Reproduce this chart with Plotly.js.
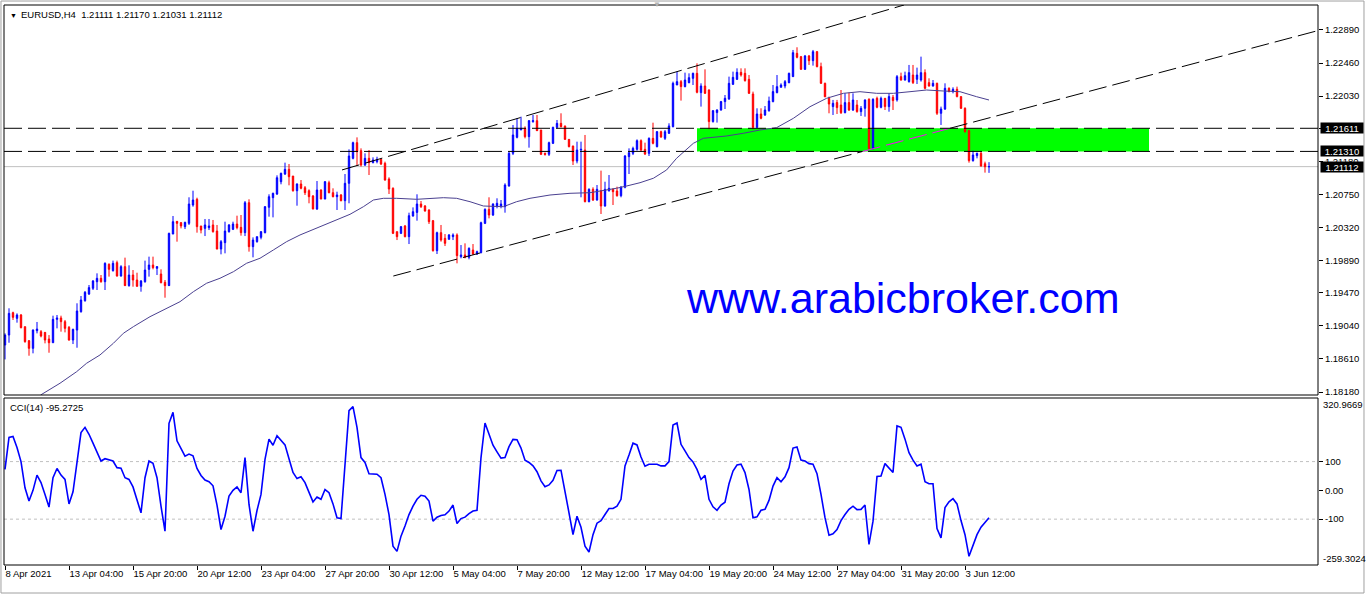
<!DOCTYPE html>
<html>
<head>
<meta charset="utf-8">
<script src="https://cdn.plot.ly/plotly-3.0.1.min.js"></script>
<style>html,body{margin:0;padding:0;background:#fff;}#chart{width:1368px;height:596px;}</style>
</head>
<body>
<div id="chart"></div>
<script>
// ---------- DATA ----------
const symbolTitle = 'EURUSD,H4\u00a0\u00a01.21111 1.21170 1.21031 1.21112';
const cciTitle = 'CCI(14) -95.2725';
const watermark = 'www.arabicbroker.com';

const openP = [1.18791,1.18921,1.19212,1.19138,1.19182,1.19030,1.18848,1.18748,1.18978,1.18965,
1.18956,1.18869,1.18821,1.19125,1.19143,1.19095,1.19021,1.18856,1.18986,1.19225,
1.19368,1.19455,1.19529,1.19615,1.19659,1.19615,1.19841,1.19759,1.19863,1.19689,
1.19811,1.19564,1.19702,1.19637,1.19555,1.19615,1.19776,1.19832,1.19789,1.19715,
1.19607,1.19564,1.20235,1.20400,1.20383,1.20331,1.20374,1.20613,1.20687,1.20340,
1.20309,1.20318,1.20353,1.20274,1.20040,1.20123,1.20266,1.20296,1.20365,1.20322,
1.20253,1.20643,1.20071,1.20136,1.20192,1.20253,1.20583,1.20708,1.20756,1.20916,
1.21016,1.21077,1.20990,1.20799,1.20886,1.20838,1.20799,1.20730,1.20561,1.20808,
1.20691,1.20903,1.20773,1.20721,1.20743,1.20669,1.20895,1.21220,1.21424,1.21320,
1.21133,1.21220,1.21164,1.21177,1.21207,1.21155,1.20951,1.20830,1.20266,1.20244,
1.20340,1.20201,1.20470,1.20517,1.20626,1.20600,1.20548,1.20409,1.20019,1.20253,
1.20179,1.20166,1.20201,1.20223,1.19941,1.19963,1.19932,1.20027,1.19975,1.19993,
1.20374,1.20556,1.20483,1.20600,1.20600,1.20591,1.20860,1.21285,1.21493,1.21589,
1.21610,1.21502,1.21697,1.21710,1.21589,1.21285,1.21272,1.21415,1.21623,1.21675,
1.21641,1.21467,1.21380,1.21185,1.21328,1.21328,1.20656,1.20817,1.20678,1.20799,
1.20600,1.20799,1.20817,1.20795,1.20734,1.20843,1.21242,1.21285,1.21337,1.21450,
1.21337,1.21285,1.21480,1.21372,1.21567,1.21480,1.21546,1.21632,1.22174,1.22218,
1.22153,1.22205,1.22261,1.22326,1.22075,1.22161,1.22109,1.21698,1.21815,1.21849,
1.21958,1.21993,1.22183,1.22248,1.22339,1.22326,1.22248,1.22057,1.21624,1.21797,
1.21784,1.21840,1.21958,1.22075,1.22144,1.22161,1.22205,1.22283,1.22586,1.22543,
1.22378,1.22552,1.22491,1.22608,1.22413,1.22196,1.22001,1.21893,1.21945,1.21914,
1.21814,1.21945,1.21849,1.21914,1.21828,1.21871,1.21988,1.21350,1.22001,1.21884,
1.22001,1.21893,1.22014,1.21980,1.22283,1.22239,1.22218,1.22304,1.22248,1.22239,
1.22335,1.22205,1.22161,1.22196,1.21806,1.21862,1.22131,1.22088,1.22118,1.22023,
1.21871,1.21580,1.21190,1.21255,1.21285,1.21150,1.21111];

const highP = [1.18943,1.19269,1.19225,1.19203,1.19195,1.19030,1.18856,1.18995,1.19091,1.18986,
1.18956,1.18921,1.19173,1.19182,1.19173,1.19117,1.19039,1.19004,1.19334,1.19429,
1.19494,1.19572,1.19637,1.19724,1.19702,1.19867,1.19854,1.19889,1.19889,1.19830,
1.19928,1.19828,1.19767,1.19732,1.19637,1.19889,1.19941,1.19941,1.19819,1.19776,
1.19637,1.20253,1.20470,1.20405,1.20392,1.20396,1.20713,1.20799,1.20708,1.20340,
1.20431,1.20431,1.20418,1.20353,1.20157,1.20396,1.20365,1.20396,1.20474,1.20483,
1.20665,1.20687,1.20192,1.20201,1.20274,1.20600,1.20752,1.20773,1.20999,1.21034,
1.21164,1.21146,1.20990,1.20895,1.20938,1.20860,1.20817,1.20743,1.20925,1.20817,
1.20925,1.20929,1.20830,1.20786,1.20756,1.21016,1.21337,1.21437,1.21493,1.21350,
1.21285,1.21328,1.21233,1.21241,1.21220,1.21177,1.20973,1.20843,1.20266,1.20340,
1.20353,1.20513,1.20582,1.20752,1.20665,1.20613,1.20557,1.20418,1.20266,1.20353,
1.20235,1.20235,1.20244,1.20244,1.20092,1.20114,1.20062,1.20105,1.20019,1.20396,
1.20570,1.20713,1.20635,1.20700,1.20678,1.20895,1.21307,1.21654,1.21740,1.21762,
1.21636,1.21719,1.21784,1.21784,1.21589,1.21294,1.21437,1.21632,1.21719,1.21806,
1.21645,1.21467,1.21385,1.21437,1.21437,1.21524,1.20830,1.20843,1.20873,1.21060,
1.20916,1.21003,1.20830,1.20851,1.20860,1.21263,1.21350,1.21372,1.21467,1.21467,
1.21424,1.21493,1.21684,1.21576,1.21580,1.21589,1.21676,1.22218,1.22348,1.22239,
1.22335,1.22326,1.22335,1.22456,1.22196,1.22378,1.22118,1.21849,1.21858,1.21967,
1.22044,1.22283,1.22348,1.22391,1.22391,1.22391,1.22304,1.22088,1.21871,1.21871,
1.21901,1.22023,1.22174,1.22304,1.22196,1.22239,1.22335,1.22630,1.22665,1.22552,
1.22565,1.22565,1.22630,1.22617,1.22465,1.22205,1.22023,1.21980,1.21980,1.22109,
1.22066,1.22075,1.22066,1.21979,1.21901,1.21988,1.22001,1.22001,1.22023,1.22023,
1.22001,1.22066,1.22044,1.22304,1.22335,1.22348,1.22435,1.22435,1.22400,1.22543,
1.22378,1.22261,1.22239,1.22205,1.21893,1.22196,1.22144,1.22144,1.22153,1.22023,
1.21884,1.21589,1.21320,1.21294,1.21307,1.21177,1.21170];

const lowP = [1.18604,1.18821,1.19117,1.19082,1.19008,1.18821,1.18652,1.18683,1.18943,1.18891,
1.18813,1.18691,1.18821,1.19008,1.18965,1.18956,1.18848,1.18804,1.18756,1.19212,
1.19355,1.19442,1.19507,1.19507,1.19602,1.19507,1.19681,1.19746,1.19681,1.19681,
1.19559,1.19550,1.19550,1.19550,1.19485,1.19602,1.19681,1.19776,1.19702,1.19594,
1.19407,1.19559,1.20235,1.20136,1.20309,1.20300,1.20353,1.20591,1.20253,1.20244,
1.20209,1.20287,1.20253,1.20036,1.19971,1.19984,1.20253,1.20287,1.20296,1.20214,
1.20209,1.20006,1.19932,1.20123,1.20166,1.20244,1.20461,1.20452,1.20743,1.20882,
1.21003,1.20869,1.20786,1.20604,1.20817,1.20743,1.20635,1.20556,1.20548,1.20687,
1.20687,1.20765,1.20713,1.20548,1.20661,1.20548,1.20635,1.21207,1.21120,1.21112,
1.21120,1.21003,1.21155,1.21155,1.21133,1.20929,1.20756,1.20235,1.20157,1.20235,
1.20192,1.20105,1.20461,1.20409,1.20574,1.20526,1.20366,1.20006,1.19975,1.20136,
1.20079,1.20166,1.20157,1.19854,1.19919,1.19919,1.19906,1.19962,1.19962,1.19984,
1.20365,1.20439,1.20470,1.20570,1.20570,1.20513,1.20852,1.21263,1.21480,1.21589,
1.21480,1.21359,1.21684,1.21576,1.21263,1.21255,1.21250,1.21406,1.21610,1.21623,
1.21459,1.21363,1.21133,1.21155,1.20713,1.20648,1.20648,1.20665,1.20669,1.20496,
1.20591,1.20786,1.20613,1.20721,1.20713,1.20830,1.21016,1.21263,1.21320,1.21307,
1.21263,1.21250,1.21402,1.21363,1.21488,1.21459,1.21537,1.21623,1.22174,1.21971,
1.22144,1.22196,1.22174,1.22066,1.21893,1.22057,1.21598,1.21685,1.21685,1.21840,
1.21862,1.21980,1.22174,1.22239,1.22283,1.22218,1.22057,1.21598,1.21611,1.21728,
1.21771,1.21827,1.21949,1.22066,1.22144,1.22131,1.22196,1.22283,1.22521,1.22370,
1.22370,1.22435,1.22426,1.22404,1.22187,1.22020,1.21806,1.21784,1.21797,1.21797,
1.21806,1.21836,1.21836,1.21814,1.21771,1.21762,1.21337,1.21337,1.21871,1.21871,
1.21849,1.21827,1.21849,1.21958,1.22231,1.22231,1.22205,1.22187,1.22187,1.22218,
1.22118,1.22153,1.22153,1.21784,1.21654,1.21849,1.22079,1.22066,1.22014,1.21862,
1.21554,1.21164,1.21177,1.21220,1.21112,1.21034,1.21031];

const closeP = [1.18921,1.19203,1.19151,1.19182,1.19017,1.18835,1.18748,1.18986,1.18999,1.18908,
1.18856,1.18821,1.19125,1.19143,1.19095,1.19008,1.18856,1.18995,1.19234,1.19377,
1.19477,1.19538,1.19624,1.19659,1.19615,1.19854,1.19776,1.19854,1.19689,1.19811,
1.19564,1.19702,1.19637,1.19555,1.19624,1.19767,1.19832,1.19798,1.19811,1.19602,
1.19564,1.20244,1.20396,1.20374,1.20340,1.20387,1.20626,1.20678,1.20331,1.20287,
1.20353,1.20340,1.20266,1.20040,1.20136,1.20274,1.20353,1.20365,1.20318,1.20253,
1.20643,1.20071,1.20157,1.20201,1.20266,1.20591,1.20721,1.20765,1.20968,1.21025,
1.21077,1.20981,1.20799,1.20886,1.20830,1.20773,1.20721,1.20561,1.20808,1.20691,
1.20916,1.20773,1.20721,1.20743,1.20669,1.20895,1.21250,1.21424,1.21307,1.21133,
1.21220,1.21164,1.21198,1.21207,1.21146,1.20938,1.20821,1.20244,1.20201,1.20331,
1.20201,1.20474,1.20526,1.20626,1.20591,1.20535,1.20396,1.20019,1.20253,1.20157,
1.20114,1.20223,1.20223,1.19954,1.19963,1.19932,1.20049,1.19975,1.20006,1.20383,
1.20556,1.20483,1.20626,1.20635,1.20626,1.20873,1.21285,1.21524,1.21610,1.21610,
1.21502,1.21710,1.21710,1.21580,1.21272,1.21272,1.21424,1.21623,1.21675,1.21632,
1.21467,1.21372,1.21185,1.21328,1.21337,1.20656,1.20817,1.20678,1.20817,1.20600,
1.20817,1.20830,1.20786,1.20734,1.20843,1.21250,1.21294,1.21350,1.21450,1.21328,
1.21276,1.21480,1.21415,1.21567,1.21497,1.21567,1.21641,1.22196,1.22218,1.22153,
1.22239,1.22270,1.22326,1.22079,1.22161,1.22066,1.21698,1.21840,1.21849,1.21958,
1.22001,1.22196,1.22274,1.22339,1.22304,1.22231,1.22066,1.21624,1.21797,1.21741,
1.21849,1.21966,1.22088,1.22153,1.22174,1.22218,1.22326,1.22595,1.22534,1.22378,
1.22552,1.22491,1.22608,1.22413,1.22196,1.22020,1.21927,1.21936,1.21880,1.21814,
1.21945,1.21849,1.21979,1.21828,1.21871,1.21979,1.21350,1.21988,1.21884,1.22001,
1.21893,1.22023,1.21971,1.22283,1.22239,1.22296,1.22335,1.22205,1.22304,1.22335,
1.22131,1.22161,1.22196,1.21806,1.21862,1.22131,1.22088,1.22118,1.22023,1.21871,
1.21567,1.21190,1.21264,1.21285,1.21120,1.21111,1.21112];

const cciValues = [73,184,187,149,100,9,-37,0,53,27,
-14,-58,44,76,53,38,-47,-5,97,201,
219,195,164,135,102,110,107,102,79,77,
44,38,12,-31,-78,44,102,94,44,-55,
-142,233,271,172,143,119,126,120,76,52,
36,30,16,-51,-136,-90,-20,0,12,-8,
114,-49,-142,-70,-14,108,178,157,190,174,
158,110,62,41,47,27,-8,-40,-23,-31,
3,-8,-47,-95,-98,91,277,291,219,114,
97,58,58,56,44,-14,-84,-194,-212,-159,
-124,-84,-55,-31,-17,-20,-37,-107,-93,-87,
-85,-72,-51,-115,-98,-93,-81,-72,-69,114,
234,195,157,134,112,114,152,177,176,147,
105,97,85,65,33,13,19,35,69,70,
0,-78,-154,-90,-128,-194,-214,-154,-114,-105,
-84,-63,-63,-55,-31,85,123,164,158,116,
84,91,91,91,85,85,100,227,234,160,
137,114,99,73,38,52,-31,-57,-69,-51,
-41,23,67,88,91,62,3,-95,-92,-69,
-66,-35,15,44,30,47,79,147,151,105,
102,93,91,58,-14,-95,-156,-151,-136,-105,
-84,-66,-55,-67,-66,-51,-188,-107,48,50,
93,76,62,224,219,178,131,105,85,91,
30,23,23,-133,-165,-60,-40,-29,-47,-105,
-154,-229,-188,-154,-128,-113,-95.2725];

// moving average read at sampled bar positions
const maBar = [8.9,13.75,17.9,20.4,23.75,27.1,29.6,32.1,36.25,40.4,43.75,47.1,50.4,53.75,57.1,60.4,63.75,67.1,70.4,73.75,77.9,82.1,86.25,89.6,92.1,94.6,97.9,102.9,109.6,112.9,116.25,119.6,122.1,124.6,127.9,131.25,136.25,141.25,146.25,149.6,152.9,155.4,158.75,162.1,165.4,167.9,172.1,174.6,180.4,184.6,188.75,192.9,197.1,201.25,205.4,209.6,213.75,217.9,222.1,226.25,230.4,234.6,238.75,242.9,246];
const maValue = [1.18141,1.18294,1.18444,1.18554,1.18662,1.18814,1.18944,1.19030,1.19160,1.19269,1.19355,1.19485,1.19595,1.19660,1.19745,1.19855,1.19920,1.20028,1.20136,1.20223,1.20310,1.20396,1.20492,1.20591,1.20678,1.20700,1.20700,1.20687,1.20708,1.20700,1.20656,1.20600,1.20591,1.20591,1.20656,1.20700,1.20743,1.20765,1.20773,1.20799,1.20831,1.20860,1.20903,1.20961,1.21069,1.21221,1.21416,1.21481,1.21511,1.21546,1.21589,1.21619,1.21741,1.21892,1.22001,1.22066,1.22087,1.22066,1.22066,1.22087,1.22109,1.22096,1.22087,1.22022,1.21979];

const timeTickBars = [0,16,32,48,64,80,96,112,128,144,160,176,192,208,224,240];
const timeTickLabels = ['8 Apr 2021','13 Apr 04:00','15 Apr 20:00','20 Apr 12:00','23 Apr 04:00','27 Apr 20:00','30 Apr 12:00','5 May 04:00','7 May 20:00','12 May 12:00','17 May 04:00','19 May 20:00','24 May 12:00','27 May 04:00','31 May 20:00','3 Jun 12:00'];
const priceTicks = [1.18180,1.18610,1.19040,1.19470,1.19890,1.20320,1.20750,1.21180,1.21610,1.22030,1.22460,1.22890];
const cciTicks = [100,0,-100];
const cciTickLabels = ['100','0.00','-100'];
const cciMax = 320.9669, cciMin = -259.3024;

const levelPrices = [1.21611, 1.21310];
const bidPrice = 1.21112;
const zoneBars = [173, 286];
const zonePrices = [1.21310, 1.21611];
const upperLine = {bar:[84.25, 224.75], price:[1.21069, 1.23215]};
const lowerLine = {bar:[97.08, 328.25], price:[1.19689, 1.22882]};

// ---------- CHART ----------
const FONT = 'Liberation Sans, Arial, sans-serif';
const bars = openP.map((_, i) => i);
const mainDom = [0.30357, 1];
const cciDom = [0, 0.29821];

const traces = [
  {type:'scatter', mode:'lines', x:maBar, y:maValue, xaxis:'x', yaxis:'y',
   line:{color:'#4A4090', width:1}, hoverinfo:'skip'},
  {type:'candlestick', x:bars, open:openP, high:highP, low:lowP, close:closeP,
   xaxis:'x', yaxis:'y', whiskerwidth:0,
   increasing:{line:{color:'#0000FF', width:1}, fillcolor:'#0000FF'},
   decreasing:{line:{color:'#FF0000', width:1}, fillcolor:'#FF0000'},
   hoverinfo:'skip'},
  {type:'scatter', mode:'lines', x:bars, y:cciValues, xaxis:'x', yaxis:'y2',
   line:{color:'#0000FF', width:1.6}, hoverinfo:'skip'}
];

// lower trend line split where it crosses the green zone (drawn magenta inside)
function barAt(line, p) {
  return line.bar[0] + (p - line.price[0]) / (line.price[1] - line.price[0]) * (line.bar[1] - line.bar[0]);
}
const bIn = barAt(lowerLine, zonePrices[0]);
const bOut = barAt(lowerLine, zonePrices[1]);
const DASH = '18px,6px';

const shapes = [
  {type:'rect', xref:'paper', yref:'paper', x0:-0.0023, x1:1.035, y0:-0.05, y1:1.0071,
   line:{color:'#A0A0A0', width:1}, fillcolor:'rgba(0,0,0,0)', layer:'below'},
  {type:'rect', xref:'x', yref:'y', x0:zoneBars[0], x1:zoneBars[1], y0:zonePrices[0], y1:zonePrices[1],
   fillcolor:'#00FF00', line:{width:0}, layer:'below'},
  {type:'line', xref:'paper', yref:'y', x0:0, x1:1, y0:bidPrice, y1:bidPrice,
   line:{color:'#C0C0C0', width:1}, layer:'below'},
  {type:'line', xref:'paper', yref:'y2', x0:0, x1:1, y0:100, y1:100, line:{color:'#C0C0C0', width:1, dash:'3px,3px'}, layer:'below'},
  {type:'line', xref:'paper', yref:'y2', x0:0, x1:1, y0:-100, y1:-100, line:{color:'#C0C0C0', width:1, dash:'3px,3px'}, layer:'below'},
  {type:'line', xref:'x', yref:'y', x0:upperLine.bar[0], x1:upperLine.bar[1], y0:upperLine.price[0], y1:upperLine.price[1],
   line:{color:'#000', width:1, dash:DASH}},
  {type:'line', xref:'x', yref:'y', x0:lowerLine.bar[0], x1:bIn, y0:lowerLine.price[0], y1:zonePrices[0],
   line:{color:'#000', width:1, dash:DASH}},
  {type:'line', xref:'x', yref:'y', x0:bIn, x1:bOut, y0:zonePrices[0], y1:zonePrices[1],
   line:{color:'#FF00FF', width:1, dash:DASH}},
  {type:'line', xref:'x', yref:'y', x0:bOut, x1:lowerLine.bar[1], y0:zonePrices[1], y1:lowerLine.price[1],
   line:{color:'#000', width:1, dash:DASH}},
  {type:'rect', xref:'paper', yref:'paper', x0:0, x1:1, y0:mainDom[0], y1:mainDom[1],
   line:{color:'#000', width:1}, fillcolor:'rgba(0,0,0,0)'},
  {type:'rect', xref:'paper', yref:'paper', x0:0, x1:1, y0:cciDom[0], y1:cciDom[1],
   line:{color:'#000', width:1}, fillcolor:'rgba(0,0,0,0)'}
];
levelPrices.forEach(p => shapes.push({type:'line', xref:'paper', yref:'y', x0:0, x1:1, y0:p, y1:p,
  line:{color:'#000', width:1, dash:DASH}}));

const txt = (s, c) => ({family:FONT, size:s, color:c || '#000'});
const annotations = [
  {xref:'paper', yref:'paper', x:0, y:1, xanchor:'left', yanchor:'top', xshift:4, yshift:-5,
   text:'▼', showarrow:false, font:txt(7)},
  {xref:'paper', yref:'paper', x:0, y:1, xanchor:'left', yanchor:'top', xshift:15, yshift:-2,
   text:symbolTitle, showarrow:false, font:txt(9.5)},
  {xref:'paper', yref:'paper', x:0, y:cciDom[1], xanchor:'left', yanchor:'top', xshift:4, yshift:-2,
   text:cciTitle, showarrow:false, font:txt(9.5)},
  {xref:'paper', yref:'paper', x:0.4970, y:1, xanchor:'center', yanchor:'middle', yshift:1,
   text:'▼', showarrow:false, font:txt(8, '#B4B4B4')},
  {xref:'paper', yref:'paper', x:0.6842, y:0.4759, xanchor:'center', yanchor:'middle',
   text:watermark, showarrow:false, font:txt(43, '#0000FF')},
  {xref:'paper', yref:'y2', x:1, y:cciMax, xanchor:'left', yanchor:'middle', xshift:3, yshift:-6,
   text:cciMax.toFixed(4), showarrow:false, font:txt(9.5)},
  {xref:'paper', yref:'y2', x:1, y:cciMin, xanchor:'left', yanchor:'middle', xshift:3, yshift:7,
   text:cciMin.toFixed(4), showarrow:false, font:txt(9.5)}
];
[levelPrices[0], levelPrices[1], bidPrice].forEach(p => annotations.push({
  xref:'paper', yref:'y', x:1, y:p, xanchor:'left', yanchor:'middle', xshift:2,
  text:p.toFixed(5), showarrow:false, font:txt(9.5, '#FFFFFF'),
  bgcolor:'#000000', borderpad:0, width:42, height:10
}));

const layout = {
  width:1368, height:596,
  margin:{l:4, r:50, t:5, b:31, pad:0},
  paper_bgcolor:'#FFFFFF', plot_bgcolor:'#FFFFFF',
  showlegend:false, hovermode:false, boxgap:0.5,
  font:{family:FONT, size:9.5, color:'#000'},
  xaxis:{range:[-0.25, 328.25], anchor:'y2', tickmode:'array', tickvals:timeTickBars, ticktext:timeTickLabels,
    ticks:'outside', ticklen:4, tickcolor:'#000', ticklabelposition:'outside right', tickangle:0,
    showline:false, showgrid:false, zeroline:false, rangeslider:{visible:false}, fixedrange:true,
    tickfont:txt(9.5)},
  yaxis:{domain:mainDom, range:[1.18141, 1.23215], side:'right', anchor:'x',
    tickmode:'array', tickvals:priceTicks, ticktext:priceTicks.map(v => v.toFixed(5)),
    ticks:'outside', ticklen:4, tickcolor:'#000', showline:false, showgrid:false, zeroline:false,
    fixedrange:true, tickfont:txt(9.5)},
  yaxis2:{domain:cciDom, range:[cciMin, cciMax], side:'right', anchor:'x',
    tickmode:'array', tickvals:cciTicks, ticktext:cciTickLabels,
    ticks:'outside', ticklen:4, tickcolor:'#000', showline:false, showgrid:false, zeroline:false,
    fixedrange:true, tickfont:txt(9.5)},
  shapes:shapes, annotations:annotations
};

Plotly.newPlot('chart', traces, layout, {staticPlot:true, displayModeBar:false});
</script>
</body>
</html>
